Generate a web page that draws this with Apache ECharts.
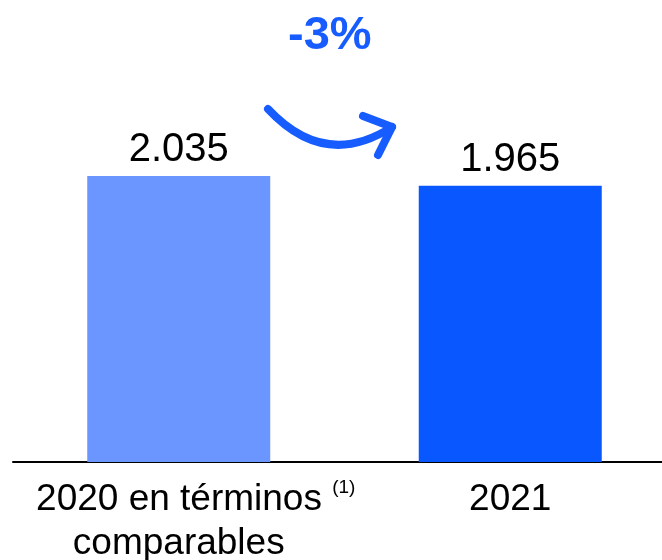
<!DOCTYPE html>
<html>
<head>
<meta charset="utf-8">
<script src="https://cdn.jsdelivr.net/npm/echarts@6/dist/echarts.min.js"></script>
<style>
  html, body { margin: 0; padding: 0; background: #fff; }
  #main { width: 662px; height: 560px; }
</style>
</head>
<body>
<div id="main"></div>
<script>
// datos
const categorias = ['2020 en términos', '2021'];
const valores = [2035, 1965];
const colores = ['#6b96ff', '#0957ff'];
const notaRef = '(1)';

const variacion = Math.round((valores[1] / valores[0] - 1) * 100); // -3

const myChart = echarts.init(document.getElementById('main'));

const fmt = v => (v / 1000).toFixed(3);

myChart.setOption({
  animation: false,
  grid: { left: 13, right: -14, top: 40.4, bottom: 98, outerBoundsMode: 'none', containLabel: false },
  xAxis: {
    type: 'category',
    data: categorias,
    axisLine: { lineStyle: { color: '#000', width: 2 } },
    axisTick: { show: false },
    axisLabel: {
      margin: 16,
      interval: 0,
      color: '#000',
      fontFamily: 'Liberation Sans',
      fontSize: 37,
      lineHeight: 44,
      formatter: function (v, i) {
        if (i === 0) return '{pad|}' + v + ' {sup|' + notaRef + '}\ncomparables';
        return v;
      },
      rich: {
        pad: { width: 34 },
        sup: { fontSize: 19, lineHeight: 34, verticalAlign: 'top', color: '#000', fontFamily: 'Liberation Sans' }
      }
    }
  },
  yAxis: { type: 'value', min: 0, max: 3000, show: false, splitLine: { show: false } },
  series: [{
    type: 'bar',
    barWidth: 183,
    data: valores.map((v, i) => ({ value: v, itemStyle: { color: colores[i] } })),
    label: {
      show: true,
      position: 'top',
      distance: 6,
      color: '#000',
      fontFamily: 'Liberation Sans',
      fontSize: 40,
      formatter: p => fmt(p.value)
    }
  }],
  graphic: [
    {
      type: 'text',
      left: 288,
      top: 13,
      style: {
        text: variacion + '%',
        fill: '#175cff',
        font: 'bold 47px "Liberation Sans"'
      }
    },
    {
      type: 'bezierCurve',
      shape: { x1: 268, y1: 109, x2: 392, y2: 127, cpx1: 325, cpy1: 170 },
      style: { stroke: '#175cff', lineWidth: 8, lineCap: 'round', fill: null }
    },
    {
      type: 'polyline',
      shape: { points: [[363, 116], [392, 127], [378, 155]] },
      style: { stroke: '#175cff', lineWidth: 8, lineCap: 'round', lineJoin: 'round', fill: null }
    }
  ]
});
</script>
</body>
</html>
